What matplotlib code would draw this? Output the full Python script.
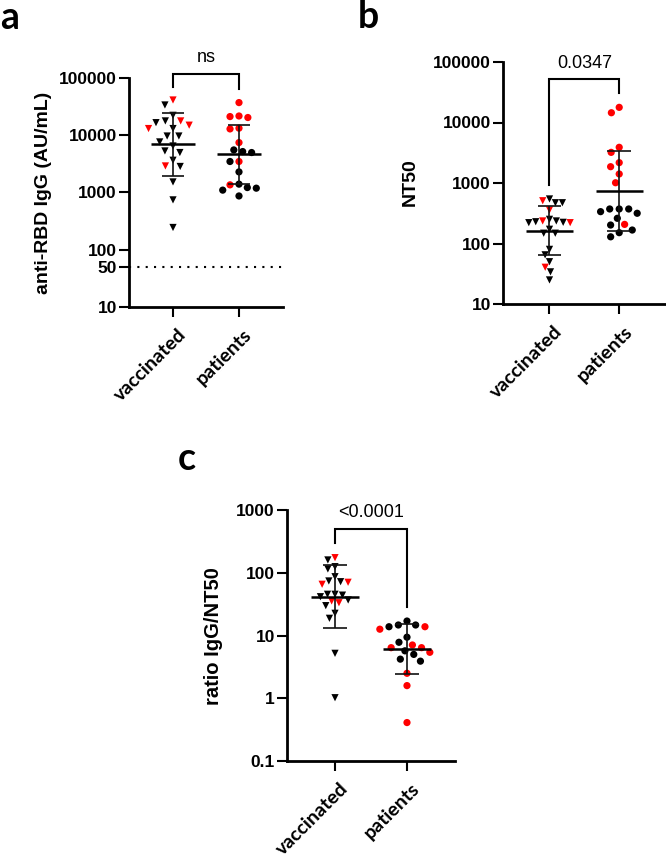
import numpy as np
import matplotlib
matplotlib.use("Agg")
import matplotlib.pyplot as plt
from matplotlib.transforms import ScaledTranslation

# ---------------- data ----------------
groups = ["vaccinated", "patients"]

# panel a: anti-RBD IgG (AU/mL); flag 1 = red subgroup
a_vacc_igg = [41300, 33800, 22300, 17800, 16600, 17800, 15000, 13100, 13100, 9700,
              9700, 7650, 6500, 5320, 4990, 3660, 2910, 2850, 1530, 743, 245]
a_vacc_flag = [1, 0, 0, 0, 0, 1, 1, 0, 1, 0, 0, 0, 0, 0, 0, 0, 1, 0, 0, 0, 0]
a_pat_igg = [37200, 21200, 21700, 20400, 13300, 12900, 7450, 4990, 5190, 5540,
             3480, 3480, 2290, 1360, 1400, 1190, 1100, 1220, 870]
a_pat_flag = [1, 1, 1, 1, 1, 1, 1, 0, 0, 0, 1, 0, 0, 1, 0, 0, 0, 0, 0]
a_cutoff = 50

# panel b: NT50
b_vacc_nt50 = [545, 509, 472, 472, 358, 251, 221, 236, 221, 229, 236, 224,
               172, 148, 148, 80, 65, 50, 40.5, 34, 25]
b_vacc_flag = [0, 1, 0, 0, 1, 0, 1, 1, 0, 0, 0, 0, 0, 0, 0, 0, 0, 0, 1, 0, 0]
b_pat_nt50 = [17800, 14500, 3890, 3210, 2170, 1860, 1410, 1010, 372, 372, 372, 336,
              316, 261, 207, 202, 167, 151, 129]
b_pat_flag = [1, 1, 1, 1, 1, 1, 1, 1, 0, 0, 0, 0, 0, 0, 1, 0, 0, 0, 0]

# panel c: ratio IgG/NT50
c_vacc_ratio = [174, 160, 125, 115, 86.5, 74, 72, 70.5, 65.5, 45.4, 45.4, 44, 41.5,
                36.8, 35.5, 33.3, 29.9, 22.6, 18.8, 5.2, 1.02]
c_vacc_flag = [1, 0, 0, 0, 0, 0, 0, 1, 1, 0, 0, 0, 0, 0, 1, 1, 0, 0, 0, 0, 0]
c_pat_ratio = [17, 14.7, 14.7, 13.8, 13.8, 12.6, 9.4, 7.8, 7.06, 6.4, 6.4, 5.7, 5.4,
               5.0, 4.2, 3.9, 2.5, 1.59, 0.41]
c_pat_flag = [0, 0, 0, 0, 1, 1, 0, 0, 1, 1, 1, 0, 1, 0, 0, 0, 1, 1, 1]

p_labels = ["ns", "0.0347", "<0.0001"]

a_ticks = [10, 50, 100, 1000, 10000, 100000]
b_ticks = [10, 100, 1000, 10000, 100000]
c_ticks = [0.1, 1, 10, 100, 1000]

# ---------------- style ----------------
W, H = 666, 857
DPI = 100
RED = "#ff0000"
BLACK = "#000000"
NUMFONT = "Liberation Sans"
CATFONT = "Lato"

fig = plt.figure(figsize=(W / DPI, H / DPI), dpi=DPI)


def px_axes(x0, y_top, x1, y_bot):
    return fig.add_axes([x0 / W, 1 - y_bot / H, (x1 - x0) / W, (y_bot - y_top) / H])


def beeswarm(ax, xc, vals, d_px):
    vals = np.asarray(vals, float)
    ys = ax.transData.transform(np.column_stack([np.full(len(vals), xc), vals]))[:, 1]
    order = np.argsort(-vals, kind="stable")
    px_, py_ = [], []
    offs = np.zeros(len(vals))
    for i in order:
        y = ys[i]
        cands = [0.0]
        for qx, qy in zip(px_, py_):
            dy = abs(qy - y)
            if dy < d_px:
                dx = np.sqrt(d_px ** 2 - dy ** 2)
                cands += [qx - dx, qx + dx]
        cands = sorted(cands, key=lambda c: (abs(c), c))
        chosen = cands[-1]
        for c in cands:
            if all((c - qx) ** 2 + (y - qy) ** 2 >= d_px ** 2 - 1e-6 for qx, qy in zip(px_, py_)):
                chosen = c
                break
        px_.append(chosen)
        py_.append(y)
        offs[i] = chosen
    p = ax.transData.transform([(0, 1), (1, 1)])
    return offs / (p[1, 0] - p[0, 0])


def geo_stats(vals):
    lv = np.log10(np.asarray(vals, float))
    m, s = lv.mean(), lv.std(ddof=1)
    return 10 ** m, 10 ** (m - s), 10 ** (m + s)


def draw_group(ax, xc, vals, flags, marker, d_px, ms):
    vals = np.asarray(vals, float)
    flags = np.asarray(flags)
    offs = beeswarm(ax, xc, vals, d_px)
    cols = np.where(flags == 1, RED, BLACK)
    ax.scatter(xc + offs, vals, marker=marker, s=ms ** 2, c=list(cols),
               linewidths=0, zorder=3, clip_on=False)
    gm, lo, hi = geo_stats(vals)
    ax.plot([xc, xc], [lo, hi], color="#111111", lw=1.2, zorder=4, solid_capstyle="butt")
    for yv in (lo, hi):
        ax.plot([xc - 0.17, xc + 0.17], [yv, yv], color="#111111", lw=1.2, zorder=4,
                solid_capstyle="butt")
    ax.plot([xc - 0.34, xc + 0.34], [gm, gm], color="#000000", lw=1.8, zorder=4,
            solid_capstyle="butt")


def bracket(ax, v1, v2, text):
    l1 = max(v1) * 1.7
    l2 = max(v2) * 1.7
    top = max(l1, l2) * 1.7
    ax.plot([0, 0, 1, 1], [l1, top, top, l2], color="black", lw=1.5, clip_on=False,
            solid_joinstyle="miter", zorder=5)
    ax.annotate(text, xy=(0.5, top), xytext=(0, 8.5), textcoords="offset points",
                ha="center", va="baseline", fontsize=13, family=NUMFONT,
                annotation_clip=False)


def style_axes(ax, ticks, ylim, xlabel_dx=0.0):
    ax.set_yscale("log")
    ax.set_ylim(*ylim)
    ax.set_xlim(-0.667, 1.667)
    for s in ("top", "right"):
        ax.spines[s].set_visible(False)
    for s in ("left", "bottom"):
        ax.spines[s].set_linewidth(2.0)
    ax.set_yticks(ticks)
    ax.set_yticklabels([("%g" % t) for t in ticks])
    ax.yaxis.set_minor_locator(matplotlib.ticker.NullLocator())
    ax.tick_params(axis="both", which="major", length=7.2, width=1.5, direction="out",
                   color="black")
    ax.tick_params(axis="y", pad=1.5)
    for lab in ax.get_yticklabels():
        lab.set_fontfamily(NUMFONT)
        lab.set_fontweight("bold")
        lab.set_fontsize(12.5)
    ax.set_xticks([0, 1])
    ax.set_xticklabels(groups, rotation=45, ha="right", va="top", rotation_mode="anchor",
                       fontsize=14, fontweight="bold", family=CATFONT)
    ax.tick_params(axis="x", pad=6.5)
    off = ScaledTranslation(xlabel_dx / 72, 0, fig.dpi_scale_trans)
    for lab in ax.get_xticklabels():
        lab.set_transform(lab.get_transform() + off)
    ax.patch.set_alpha(0)


# ---------------- panel a ----------------
axa = px_axes(129, 78, 283, 307)
style_axes(axa, a_ticks, (10, 100000), xlabel_dx=3)
draw_group(axa, 0, a_vacc_igg, a_vacc_flag, "v", 9.5, 5.2)
draw_group(axa, 1, a_pat_igg, a_pat_flag, "o", 9.0, 5.2)
axa.axhline(a_cutoff, xmin=0, xmax=1, color="black", lw=1.5, linestyle=(0, (1, 3)),
            zorder=2)
bracket(axa, a_vacc_igg, a_pat_igg, p_labels[0])
fig.text(44 / W, 1 - 193 / H, "anti-RBD IgG (AU/mL)", rotation=90, ha="center", va="center",
         fontsize=14, fontweight="bold", family=NUMFONT)

# ---------------- panel b ----------------
axb = px_axes(503, 62, 665.7, 304)
style_axes(axb, b_ticks, (10, 100000), xlabel_dx=3)
draw_group(axb, 0, b_vacc_nt50, b_vacc_flag, "v", 7.0, 5.2)
draw_group(axb, 1, b_pat_nt50, b_pat_flag, "o", 9.5, 5.2)
bracket(axb, b_vacc_nt50, b_pat_nt50, p_labels[1])
fig.text(410 / W, 1 - 182 / H, "NT50", rotation=90, ha="center", va="center",
         fontsize=14, fontweight="bold", family=NUMFONT)

# ---------------- panel c ----------------
axc = px_axes(287, 510, 455, 761)
style_axes(axc, c_ticks, (0.1, 1000), xlabel_dx=3)
draw_group(axc, 0, c_vacc_ratio, c_vacc_flag, "v", 7.5, 5.2)
draw_group(axc, 1, c_pat_ratio, c_pat_flag, "o", 9.5, 5.2)
bracket(axc, c_vacc_ratio, c_pat_ratio, p_labels[2])
fig.text(214 / W, 1 - 636 / H, "ratio IgG/NT50", rotation=90, ha="center", va="center",
         fontsize=14.5, fontweight="bold", family=NUMFONT)

# ---------------- panel letters ----------------
for txt, x, y in (("a", 0, 29), ("b", 358, 28), ("c", 178, 470)):
    fig.text(x / W, 1 - y / H, txt, ha="left", va="baseline", fontsize=27,
             fontweight="bold", family=CATFONT)

fig.savefig("out.png", dpi=DPI)
